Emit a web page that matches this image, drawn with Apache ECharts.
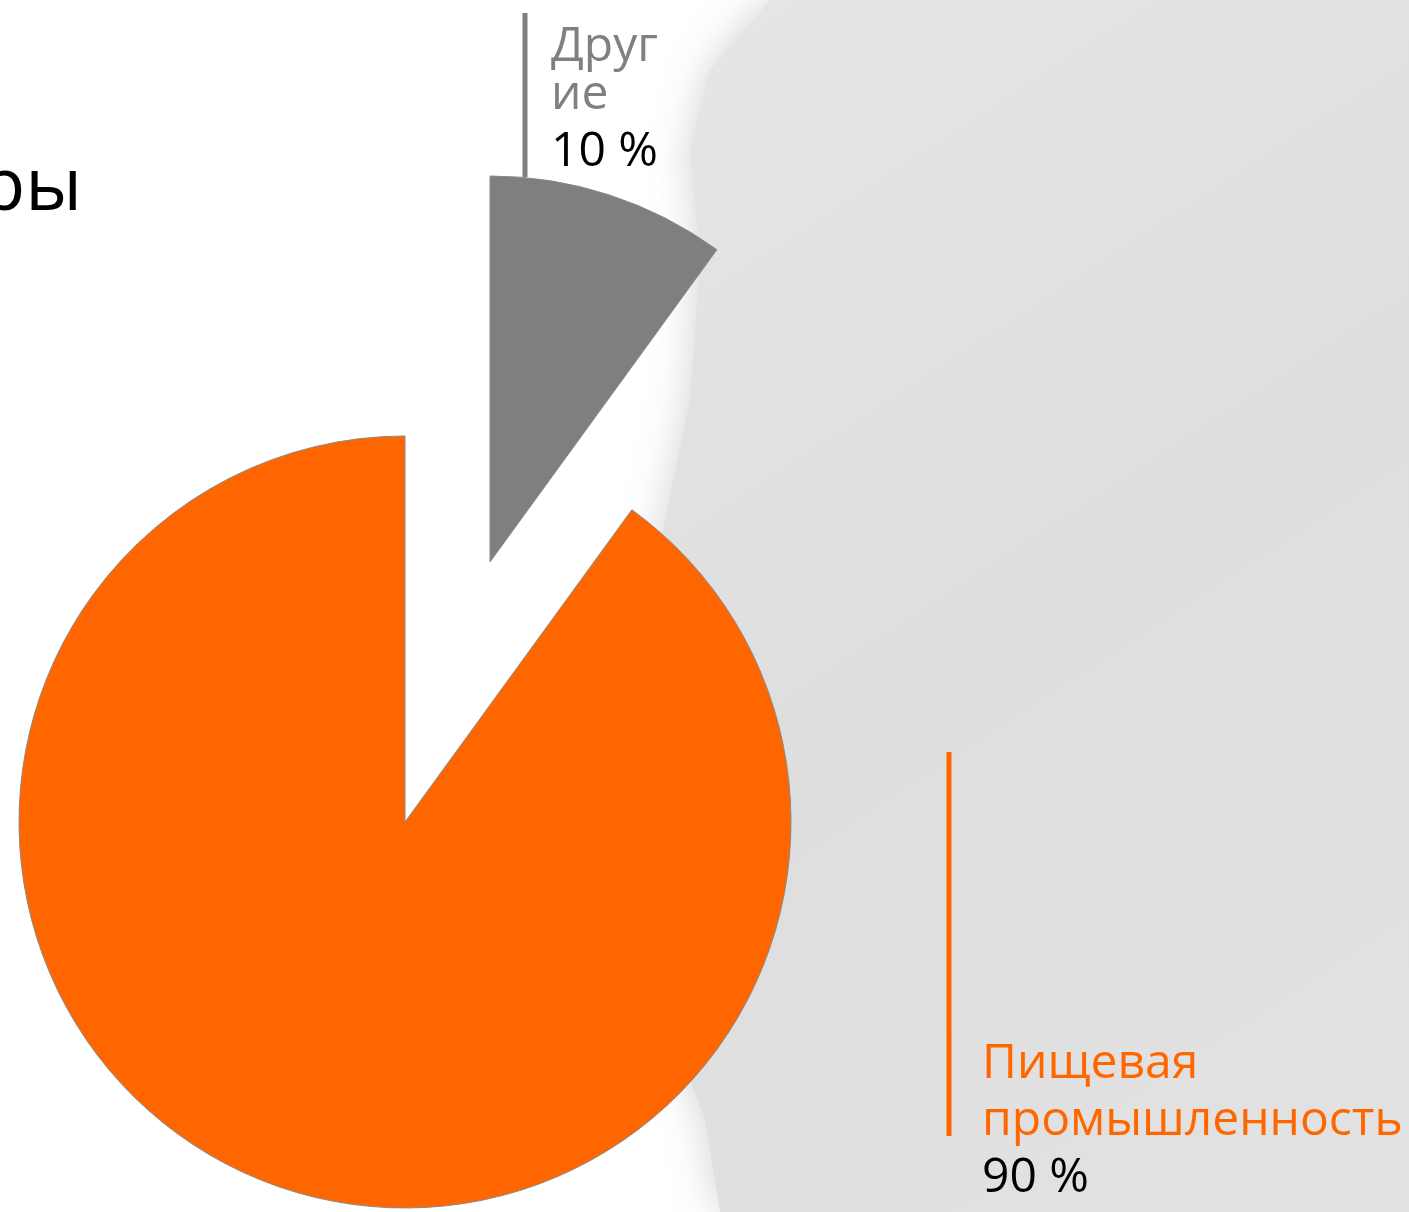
<!DOCTYPE html>
<html>
<head>
<meta charset="utf-8">
<title>Pie</title>
<script src="https://cdn.jsdelivr.net/npm/echarts@6/dist/echarts.min.js"></script>
<style>
    html, body { margin: 0; padding: 0; background: #fff; }
    #draw-main { width: 1409px; height: 1212px; }
</style>
</head>
<body>
<div id="draw-main"></div>
<script>
// данные
let names = ['Другие', 'Пищевая промышленность'];
let values = [10, 90];
let sliceColors = ['#7f7f7f', '#ff6600'];
let exploded = [true, false];

// подписи: блок текста, ширина, линия слева (x, y1, y2)
let labelSpots = [
    { x: 551, y: 23, w: 116, line: [525, 13, 177], nameLh: 48, valLh: 66 },
    { x: 982, y: 1036, w: 430, line: [949, 752, 1136], nameLh: 57, valLh: 57 }
];

let pieCenter = [405, 822];
let pieRadius = 386;
let explodeShift = [85, -260];

let fontSize = 48;
let ctx = document.createElement('canvas').getContext('2d');
ctx.font = fontSize + 'px "Open Sans"';

// перенос строк по ширине, если слово не влезает - режем по буквам
function wrap(text, maxW) {
    let lines = [];
    let cur = '';
    text.split(' ').forEach(function (word) {
        let test = cur ? cur + ' ' + word : word;
        if (ctx.measureText(test).width <= maxW) {
            cur = test;
            return;
        }
        if (cur) {
            lines.push(cur);
        }
        cur = '';
        for (let ch of word) {
            if (ctx.measureText(cur + ch).width > maxW && cur) {
                lines.push(cur);
                cur = ch;
            } else {
                cur += ch;
            }
        }
    });
    if (cur) {
        lines.push(cur);
    }
    return lines;
}

function labelText(p) {
    let lines = wrap(p.name, labelSpots[p.dataIndex].w);
    let out = lines.map(function (l) {
        return '{n' + p.dataIndex + '|' + l + '}';
    });
    out.push('{v' + p.dataIndex + '|' + p.value + ' %}');
    return out.join('\n');
}

let rich = {};
labelSpots.forEach(function (s, i) {
    rich['n' + i] = { color: i === 0 ? '#808080' : '#ff6600', fontSize: fontSize, fontFamily: 'Open Sans', lineHeight: s.nameLh };
    rich['v' + i] = { color: '#000', fontSize: fontSize, fontFamily: 'Open Sans', lineHeight: s.valLh };
});

// одна серия рисует обычные сектора, вторая - выдвинутые
function makeSeries(showExploded) {
    let c = showExploded
        ? [pieCenter[0] + explodeShift[0], pieCenter[1] + explodeShift[1]]
        : pieCenter;
    return {
        type: 'pie',
        center: c,
        radius: pieRadius,
        startAngle: 90,
        clockwise: true,
        avoidLabelOverlap: false,
        silent: true,
        emphasis: { disabled: true },
        label: {
            show: true,
            fontFamily: 'Open Sans',
            fontSize: fontSize,
            formatter: labelText,
            rich: rich
        },
        labelLine: {
            show: true,
            lineStyle: { width: 5 }
        },
        labelLayout: function (params) {
            let s = labelSpots[params.dataIndex];
            return {
                x: s.x,
                y: s.y,
                align: 'left',
                verticalAlign: 'top',
                labelLinePoints: [[s.line[0], s.line[1]], [s.line[0], s.line[2]], [s.line[0], s.line[2]]]
            };
        },
        data: names.map(function (n, i) {
            let visible = exploded[i] === showExploded;
            return {
                name: n,
                value: values[i],
                itemStyle: visible
                    ? { color: sliceColors[i], borderColor: '#8a8a8a', borderWidth: 1 }
                    : { color: 'rgba(0,0,0,0)', borderWidth: 0 },
                label: { show: visible },
                labelLine: { show: visible, lineStyle: { color: sliceColors[i] } }
            };
        })
    };
}

let chart = echarts.init(document.getElementById('draw-main'));

let option = {
    animation: false,
    graphic: [
        {
            type: 'polygon',
            z: -10,
            shape: {
                points: [[770, 0], [710, 70], [690, 150], [700, 260], [690, 400],
                    [665, 520], [640, 640], [620, 800], [660, 1000], [705, 1120],
                    [720, 1212], [1409, 1212], [1409, 0]]
            },
            style: {
                fill: new echarts.graphic.LinearGradient(0, 0, 1, 1, [
                    { offset: 0, color: '#e6e6e6' },
                    { offset: 0.5, color: '#dedede' },
                    { offset: 1, color: '#e2e2e2' }
                ]),
                shadowBlur: 40,
                shadowColor: 'rgba(205,205,205,0.9)'
            }
        },
        {
            type: 'text',
            left: -20,
            top: 152,
            style: {
                text: 'ры',
                font: '74px "Open Sans"',
                fill: '#000'
            }
        }
    ],
    series: [makeSeries(false), makeSeries(true)]
};

chart.setOption(option, true);
</script>
</body>
</html>
